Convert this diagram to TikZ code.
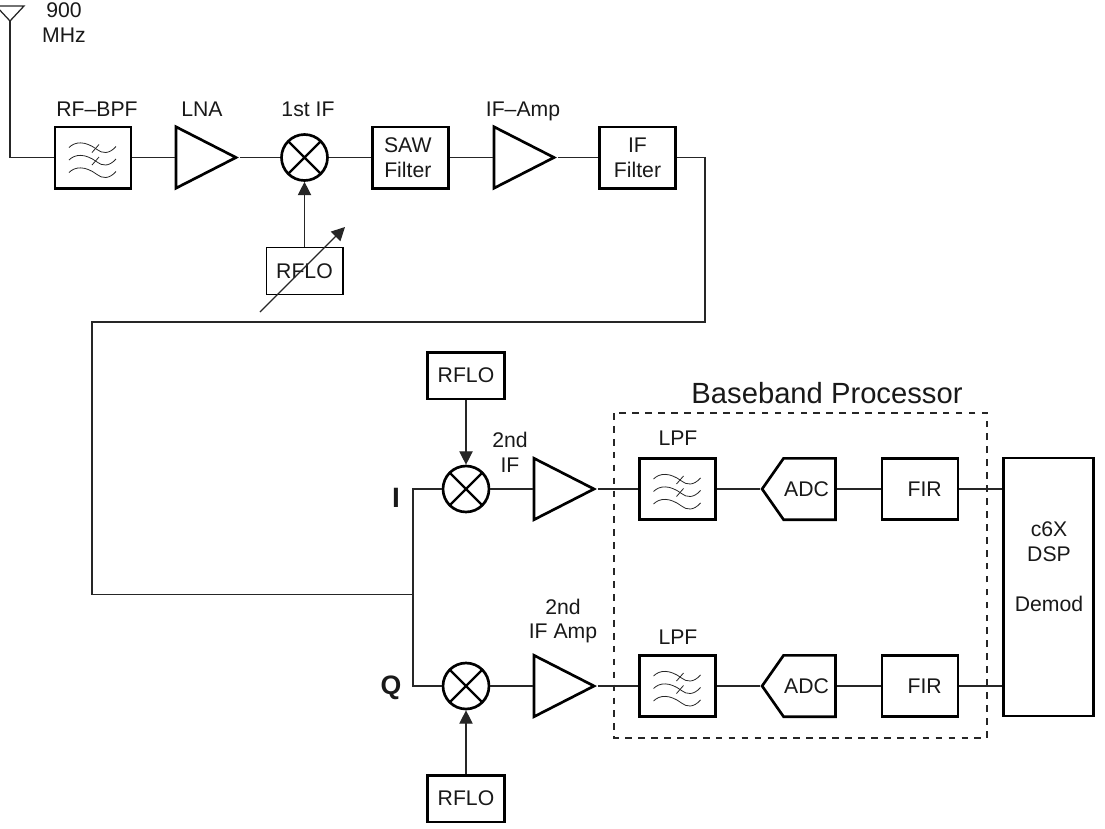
\documentclass[tikz,border=0pt]{standalone}
\usepackage{fontspec}
\setmainfont{Liberation Sans}
\usetikzlibrary{shapes.geometric,shapes.symbols,arrows.meta}
\tikzset{
  thinln/.style={line width=0.95pt,draw=black!85},
  heavy/.style={line width=2pt,draw=black},
  lbl/.style={font=\fontsize{15.9}{18.5}\selectfont,inner sep=0pt,align=center,text=black!90},
  blockbox/.style={rectangle,heavy,inner sep=0pt,lbl},
  lobox/.style={blockbox,minimum width=57.5pt,minimum height=35pt},
  filterbox/.style={blockbox,minimum width=57pt,minimum height=46pt},
  amp/.style={isosceles triangle,isosceles triangle stretches,shape border rotate=0,heavy,inner sep=0pt,minimum width=46pt,minimum height=45pt,anchor=apex},
  mixer/.style={circle,heavy,inner sep=0pt,minimum size=34.5pt,path picture={\draw[line width=1.8pt] (path picture bounding box.north west)--(path picture bounding box.south east) (path picture bounding box.north east)--(path picture bounding box.south west);}},
  adcbox/.style={signal,signal to=west,signal from=nowhere,signal pointer angle=110,heavy,inner sep=0pt,lbl,minimum width=55pt,minimum height=46pt},
  tip/.style={-{Triangle[length=10pt,width=10pt]}},
  wave/.style={line width=0.6pt,draw=black!85},
  conn/.style={thinln}
}
\newcommand{\wavesym}[1]{%
  \begin{scope}[shift={(#1)}]
    \foreach \dy in {-10,2.5,15} {
      \draw[wave] (-24,\dy) .. controls (-18,\dy-6) and (-8,\dy-7) .. (4,\dy+2) .. controls (9,\dy+6) and (16,\dy+7) .. (23,\dy-1);
    }
    \foreach \dy in {-10,2.5} {\draw[wave] (-1,\dy+5) -- (6,\dy-3);}
  \end{scope}}
\begin{document}
\begin{tikzpicture}[x=0.75pt,y=-0.75pt]
\useasboundingbox (0,0) rectangle (1105,828);
\clip (0,0) rectangle (1105,828);
% antenna
\coordinate (ant) at (10,21);
\draw[thinln] (-4,6) -- (24,6) -- (ant) -- cycle;
\node[lbl] (mhz) at (64,22.5) {900\\MHz};
% top row
\node[filterbox] (bpf) at (93,157.5) {};
\wavesym{93,157.5}
\node[lbl] (bpfl) at (97,109) {RF–BPF};
\node[amp] (lna) at (239.5,157.5) {};
\node[lbl] (lnal) at (202,109) {LNA};
\node[mixer] (mix1) at (304.5,157.5) {};
\node[lbl] (mix1l) at (308,109) {1st IF};
\node[lobox,line width=1pt] (lo1) at (304.5,271) {RFLO};
\coordinate (tuneA) at (260,312);
\coordinate (tuneB) at (345,227);
\draw[conn,tip] (tuneA) -- (tuneB);
\node[filterbox] (saw) at (410.5,157.5) {\hspace*{-4pt}SAW\\\hspace*{-4pt}Filter};
\node[amp] (ifamp) at (557.5,157.5) {};
\node[lbl] (ifampl) at (523,111.5) {IF–Amp};
\node[filterbox] (iff) at (637.5,157.5) {IF\\Filter};
\draw[conn] (ant) |- (bpf.west);
\draw[conn] (bpf.east) -- (lna.lower side);
\draw[conn] (lna.apex) -- (mix1.west);
\draw[conn] (mix1.east) -- (saw.west);
\draw[conn] (saw.east) -- (ifamp.lower side);
\draw[conn] (ifamp.apex) -- (iff.west);
\draw[conn,tip] (lo1.north) -- (mix1.south);
% long feed
\coordinate (c1) at (705,157.5);
\coordinate (c2) at (705,322);
\coordinate (c3) at (92,322);
\coordinate (c4) at (92,594.5);
\coordinate (split) at (413,594.5);
\draw[conn] (iff.east) -- (c1) -- (c2) -- (c3) -- (c4) -- (split);
% I row
\node[mixer] (mixI) at (466,489) {};
\node[mixer] (mixQ) at (466,686) {};
\draw[conn] (mixI.west) -- (413,489) -- (413,686) -- (mixQ.west);
\node[lbl,font=\fontsize{21}{24}\selectfont\bfseries] (il) at (396,497.5) {I};
\node[lbl,font=\fontsize{20}{24}\selectfont\bfseries] (ql) at (391,687.5) {Q};
\node[lobox] (lo2) at (466,375.5) {RFLO};
\node[lobox] (lo3) at (466,798.5) {RFLO};
\draw[conn,tip] (lo2.south) -- (mixI.north);
\draw[conn,tip] (lo3.north) -- (mixQ.south);
\node[lbl] (l2i) at (510,452.5) {2nd\\IF};
\node[lbl] (l2q) at (563,621) {2nd\\IF Amp};
\node[amp] (ampI) at (597.5,489) {};
\node[amp] (ampQ) at (597.5,686) {};
\draw[conn] (mixI.east) -- (ampI.lower side);
\draw[conn] (mixQ.east) -- (ampQ.lower side);
\draw[line width=0.95pt,black!85,dash pattern=on 5pt off 4.7pt] (614,413) rectangle (987,738);
\node[lbl,font=\fontsize{21.9}{26}\selectfont] (bb) at (827,393) {Baseband Processor};
\node[lbl] (lpfIl) at (678,438) {LPF};
\node[lbl] (lpfQl) at (678,637) {LPF};
\node[filterbox] (lpfI) at (677.5,489) {};
\node[filterbox] (lpfQ) at (677.5,686) {};
\wavesym{677.5,489}
\wavesym{677.5,686}
\node[adcbox] (adcI) at (809.5,489) {ADC\hspace*{4.5pt}};
\node[adcbox] (adcQ) at (809.5,686) {ADC\hspace*{4.5pt}};
\node[filterbox] (firI) at (920,489) {\hspace*{7pt}FIR};
\node[filterbox] (firQ) at (920,686) {\hspace*{7pt}FIR};
\node[blockbox,minimum width=67.5pt,minimum height=193.5pt] (dsp) at (1048.5,587) {};
\node[lbl] (dspt) at (1049,567) {c6X\\DSP\\[19pt]Demod};
\draw[conn] (ampI.apex) -- (lpfI.west);
\draw[conn] (ampQ.apex) -- (lpfQ.west);
\draw[conn] (lpfI.east) -- (adcI.west);
\draw[conn] (lpfQ.east) -- (adcQ.west);
\draw[conn] (adcI.east) -- (firI.west);
\draw[conn] (adcQ.east) -- (firQ.west);
\draw[conn] (firI.east) -- (dsp.west |- firI.east);
\draw[conn] (firQ.east) -- (dsp.west |- firQ.east);
\end{tikzpicture}
\end{document}
